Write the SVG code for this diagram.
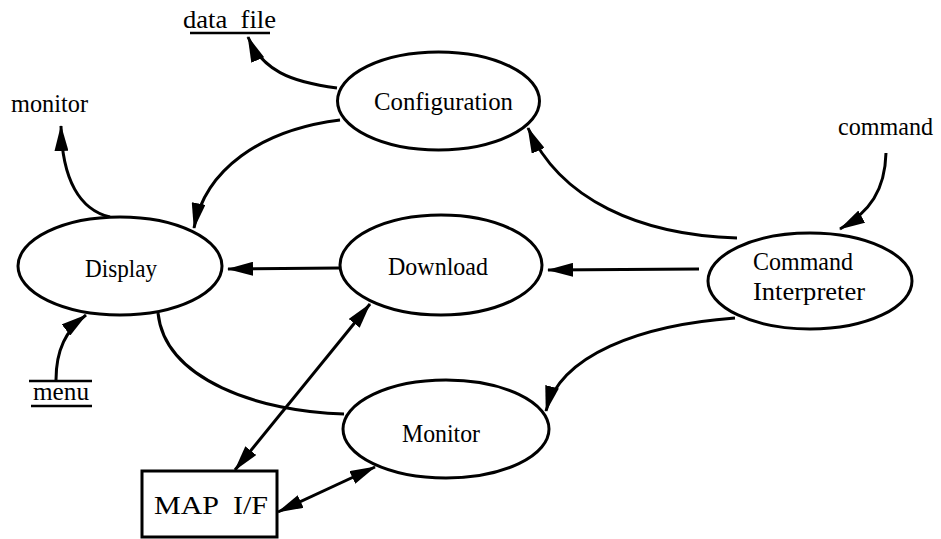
<svg xmlns="http://www.w3.org/2000/svg" width="941" height="539" viewBox="0 0 941 539">
  <style>
    .node { fill: #fff; stroke: #000; stroke-width: 3; }
    .lbl { font-family: "Liberation Serif", "Times New Roman", serif; font-size: 25px; fill: #000; }
    .edge { fill: none; stroke: #000; stroke-width: 3; }
    .rule { stroke: #000; stroke-width: 2.6; }
  </style>
  <defs>
    <marker id="arrow" viewBox="0 0 26 14" refX="25" refY="7" markerWidth="26" markerHeight="14" markerUnits="userSpaceOnUse" orient="auto-start-reverse">
      <path d="M0,0 L26,7 L0,14 z" fill="#000"/>
    </marker>
  </defs>
  <rect width="941" height="539" fill="#fff"/>

  <!-- connectors -->
  <g id="connectors">
    <path class="edge" d="M337,88 C290,82 262,70 248,37" marker-end="url(#arrow)"/>
    <path class="edge" d="M110,217 C80,210 62,180 61,126" marker-end="url(#arrow)"/>
    <path class="edge" d="M340,120 C260,130 205,170 194,228" marker-end="url(#arrow)"/>
    <path class="edge" d="M737,238 C640,235 560,200 528,128" marker-end="url(#arrow)"/>
    <path class="edge" d="M886,153 C885,190 870,212 840,229" marker-end="url(#arrow)"/>
    <path class="edge" d="M340,268 L228,269" marker-end="url(#arrow)"/>
    <path class="edge" d="M699,269 L548,270" marker-end="url(#arrow)"/>
    <path class="edge" d="M735,318 C640,325 560,355 546,411" marker-end="url(#arrow)"/>
    <path class="edge" d="M56,380 C56,350 66,330 86,315" marker-end="url(#arrow)"/>
    <path class="edge" d="M158,313 C165,380 260,412 344,414"/>
    <path class="edge" d="M235,470 L370,304" marker-start="url(#arrow)" marker-end="url(#arrow)"/>
    <path class="edge" d="M278,512 L375,467" marker-start="url(#arrow)" marker-end="url(#arrow)"/>
  </g>

  <!-- processes -->
  <g id="configuration">
    <ellipse class="node" cx="438.5" cy="101" rx="101" ry="49"/>
    <text class="lbl" x="374" y="110" textLength="139" lengthAdjust="spacingAndGlyphs">Configuration</text>
  </g>
  <g id="display">
    <ellipse class="node" cx="120" cy="266" rx="102" ry="49"/>
    <text class="lbl" x="85" y="277" textLength="72" lengthAdjust="spacingAndGlyphs">Display</text>
  </g>
  <g id="download">
    <ellipse class="node" cx="441" cy="265" rx="101" ry="50"/>
    <text class="lbl" x="388" y="275" textLength="100" lengthAdjust="spacingAndGlyphs">Download</text>
  </g>
  <g id="command-interpreter">
    <ellipse class="node" cx="810" cy="281" rx="102" ry="48"/>
    <text class="lbl" x="753" y="270" textLength="100" lengthAdjust="spacingAndGlyphs">Command</text>
    <text class="lbl" x="753" y="300" textLength="112" lengthAdjust="spacingAndGlyphs">Interpreter</text>
  </g>
  <g id="monitor-process">
    <ellipse class="node" cx="446" cy="429" rx="103" ry="49"/>
    <text class="lbl" x="402" y="442" textLength="78" lengthAdjust="spacingAndGlyphs">Monitor</text>
  </g>
  <g id="map-if">
    <rect class="node" x="142" y="471" width="135" height="66"/>
    <text class="lbl" x="154" y="514" font-size="26" xml:space="preserve" textLength="114" lengthAdjust="spacingAndGlyphs">MAP  I/F</text>
  </g>

  <!-- external entities and stores -->
  <g id="data-file">
    <text class="lbl" x="183" y="28" xml:space="preserve" textLength="93" lengthAdjust="spacingAndGlyphs">data  file</text>
    <line class="rule" x1="190" y1="33" x2="270" y2="33"/>
  </g>
  <g id="monitor-terminal">
    <text class="lbl" x="11" y="112" textLength="77" lengthAdjust="spacingAndGlyphs">monitor</text>
  </g>
  <g id="command-source">
    <text class="lbl" x="838" y="135" textLength="95" lengthAdjust="spacingAndGlyphs">command</text>
  </g>
  <g id="menu">
    <line class="rule" x1="29" y1="381" x2="92" y2="381"/>
    <text class="lbl" x="33" y="400" textLength="56" lengthAdjust="spacingAndGlyphs">menu</text>
    <line class="rule" x1="31" y1="406" x2="92" y2="406"/>
  </g>
</svg>
